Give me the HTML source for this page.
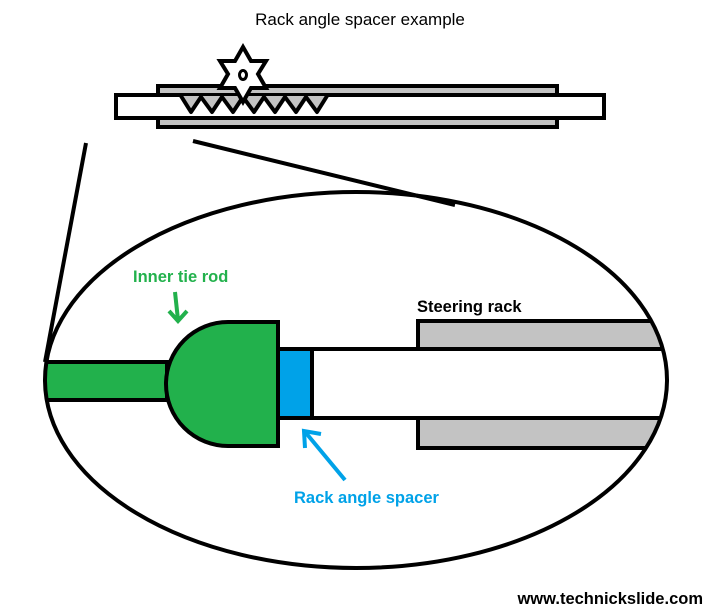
<!DOCTYPE html>
<html><head><style>body{margin:0;background:#fff}svg{display:block}</style></head><body>
<svg width="713" height="615" viewBox="0 0 713 615" xmlns="http://www.w3.org/2000/svg" font-family="Liberation Sans, sans-serif">
<text x="360" y="25" text-anchor="middle" font-size="17" fill="#000">Rack angle spacer example</text>
<rect x="158" y="86" width="399" height="41" fill="#c3c3c3" stroke="#000" stroke-width="4"/>
<rect x="116" y="95" width="488" height="23" fill="#fff" stroke="#000" stroke-width="4"/>
<polyline points="181,96 191,112 201,97 212,112 222,97 233,112 243,97 254,112 264,97 275,112 285,97 296,112 306,97 317,112 327,96" fill="#c3c3c3" stroke="#000" stroke-width="4" stroke-linejoin="round"/>
<polygon points="243,47 251,61 266,61 258,74 266,88 251,88 243,102 235,88 220,88 228,74 220,61 235,61" fill="#fff" stroke="#000" stroke-width="4"/>
<ellipse cx="243" cy="75" rx="3.5" ry="4.5" fill="none" stroke="#000" stroke-width="3"/>
<line x1="86" y1="143" x2="45" y2="362" stroke="#000" stroke-width="4"/>
<line x1="193" y1="141" x2="455" y2="205" stroke="#000" stroke-width="4"/>
<clipPath id="c"><ellipse cx="356" cy="380" rx="311" ry="188"/></clipPath>
<g clip-path="url(#c)">
<rect x="418" y="321" width="260" height="127" fill="#c3c3c3" stroke="#000" stroke-width="4"/>
<rect x="312" y="349" width="370" height="69" fill="#fff" stroke="#000" stroke-width="4"/>
<rect x="40" y="362" width="127" height="38" fill="#22b14c" stroke="#000" stroke-width="4"/>
<path d="M278,322 L228,322 A61,61 0 0 0 228,446 L278,446 Z" fill="#22b14c" stroke="#000" stroke-width="4"/>
<rect x="278" y="349" width="34" height="69" fill="#00a2e8" stroke="#000" stroke-width="4"/>
</g>
<ellipse cx="356" cy="380" rx="311" ry="188" fill="none" stroke="#000" stroke-width="4"/>
<text x="133" y="282" font-size="16.5" font-weight="bold" fill="#22b14c">Inner tie rod</text>
<line x1="175" y1="292" x2="178" y2="320" stroke="#22b14c" stroke-width="4"/>
<polyline points="169,311 178,321 187,311" fill="none" stroke="#22b14c" stroke-width="4"/>
<text x="417" y="312" font-size="16.5" font-weight="bold" fill="#000">Steering rack</text>
<line x1="345" y1="480" x2="306" y2="433" stroke="#00a2e8" stroke-width="4"/>
<polyline points="305,448 304,431 321,434" fill="none" stroke="#00a2e8" stroke-width="4"/>
<text x="294" y="503" font-size="16.5" font-weight="bold" fill="#00a2e8">Rack angle spacer</text>
<text x="703" y="604" text-anchor="end" font-size="16.5" font-weight="bold" fill="#000">www.technickslide.com</text>
</svg>
</body></html>
